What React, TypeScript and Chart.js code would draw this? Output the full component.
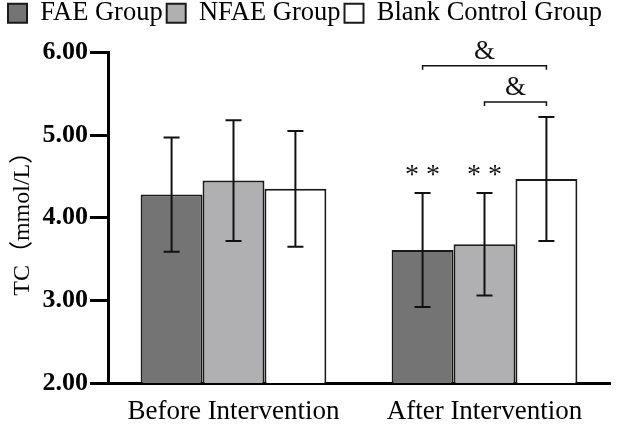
import React, { useEffect, useRef } from 'react';
import { Chart, registerables } from 'chart.js';

Chart.register(...registerables);

const categories = ['Before Intervention', 'After Intervention'];
const seriesNames = ['FAE Group', 'NFAE Group', 'Blank Control Group'];
const faeMeans = [4.28, 3.61];
const faeSD = [0.69, 0.69];
const nfaeMeans = [4.45, 3.68];
const nfaeSD = [0.73, 0.62];
const blankMeans = [4.35, 4.47];
const blankSD = [0.70, 0.75];
const yTicks = [2, 3, 4, 5, 6];
const starMarks = [
  { series: 0, category: 1, text: '* *' },
  { series: 1, category: 1, text: '* *' },
];
const brackets = [
  { from: 0, to: 2, category: 1, level: 5.84, text: '&' },
  { from: 1, to: 2, category: 1, level: 5.40, text: '&' },
];

const means = [faeMeans, nfaeMeans, blankMeans];
const sds = [faeSD, nfaeSD, blankSD];
const fills = ['#747474', '#b0b0b3', '#ffffff'];

const SERIF = "'Liberation Serif', 'Times New Roman', serif";

const annotationPlugin = {
  id: 'errAndSig',
  afterDatasetsDraw(chart: any) {
    const ctx = chart.ctx;
    const y = chart.scales.y;
    ctx.save();
    ctx.strokeStyle = '#111';
    ctx.lineWidth = 2;
    means.forEach((arr, si) => {
      const meta = chart.getDatasetMeta(si);
      arr.forEach((m, ci) => {
        const bar = meta.data[ci];
        if (!bar) return;
        const x = bar.x;
        const yt = y.getPixelForValue(m + sds[si][ci]);
        const yb = y.getPixelForValue(m - sds[si][ci]);
        ctx.beginPath();
        ctx.moveTo(x, yt);
        ctx.lineTo(x, yb);
        ctx.moveTo(x - 8, yt);
        ctx.lineTo(x + 8, yt);
        ctx.moveTo(x - 8, yb);
        ctx.lineTo(x + 8, yb);
        ctx.stroke();
      });
    });
    ctx.fillStyle = '#111';
    ctx.font = `28px ${SERIF}`;
    ctx.textAlign = 'center';
    ctx.textBaseline = 'alphabetic';
    starMarks.forEach((s) => {
      const bar = chart.getDatasetMeta(s.series).data[s.category];
      const yt = y.getPixelForValue(means[s.series][s.category] + sds[s.series][s.category]);
      ctx.fillText(s.text, bar.x, yt - 10);
    });
    ctx.lineWidth = 1.5;
    ctx.font = `27px ${SERIF}`;
    brackets.forEach((b) => {
      const x1 = chart.getDatasetMeta(b.from).data[b.category].x;
      const x2 = chart.getDatasetMeta(b.to).data[b.category].x;
      const yy = y.getPixelForValue(b.level);
      ctx.beginPath();
      ctx.moveTo(x1, yy + 4);
      ctx.lineTo(x1, yy);
      ctx.lineTo(x2, yy);
      ctx.lineTo(x2, yy + 4);
      ctx.stroke();
      ctx.fillText(b.text, (x1 + x2) / 2, yy - 7);
    });
    ctx.restore();
  },
};

export default function App() {
  const ref = useRef<HTMLCanvasElement | null>(null);
  useEffect(() => {
    if (!ref.current) return;
    const chart = new Chart(ref.current, {
      type: 'bar',
      data: {
        labels: categories,
        datasets: seriesNames.map((name, i) => ({
          label: name,
          data: means[i],
          backgroundColor: fills[i],
          borderColor: '#1a1a1a',
          borderWidth: 2,
          categoryPercentage: 0.74,
          barPercentage: 1.0,
        })),
      },
      options: {
        animation: false,
        responsive: false,
        layout: { padding: { top: -4, right: 11, left: 0, bottom: 0 } },
        plugins: {
          legend: {
            position: 'top',
            labels: {
              font: { family: SERIF, size: 26.5 },
              color: '#000',
              boxWidth: 19,
              boxHeight: 19,
              padding: 4,
            },
          },
          subtitle: {
            display: true,
            text: ' ',
            weight: 500,
            font: { size: 10 },
            padding: { top: 2, bottom: 2 },
          } as any,
          tooltip: { enabled: false },
        },
        scales: {
          x: {
            grid: { display: false, drawTicks: false },
            border: { display: true, width: 3, color: '#000' },
            ticks: { font: { family: SERIF, size: 27 }, color: '#000', padding: 13 },
            afterFit: (s: any) => { s.height = 42; },
          },
          y: {
            min: 2,
            max: 6,
            afterBuildTicks: (s: any) => { s.ticks = yTicks.map((v) => ({ value: v })); },
            grid: { drawOnChartArea: false, drawTicks: true, tickLength: 18, tickWidth: 3, color: '#000' },
            border: { display: true, width: 3, color: '#000' },
            ticks: {
              font: { family: SERIF, size: 26, weight: 'bold' },
              color: '#000',
              padding: 2,
              callback: (v: any) => Number(v).toFixed(2),
            },
            title: {
              display: true,
              text: 'TC（mmol/L）',
              font: { family: "'Liberation Serif', 'Noto Sans CJK SC'", size: 24 },
              color: '#000',
              padding: { top: 8, bottom: 0 },
            },
            afterFit: (s: any) => { s.width = 108; },
          },
        },
      } as any,
      plugins: [annotationPlugin],
    });
    return () => chart.destroy();
  }, []);
  return (
    <div style={{ position: 'absolute', left: 0, top: 0, width: 621, height: 425, background: '#fff' }}>
      <canvas ref={ref} width={621} height={425} />
    </div>
  );
}
